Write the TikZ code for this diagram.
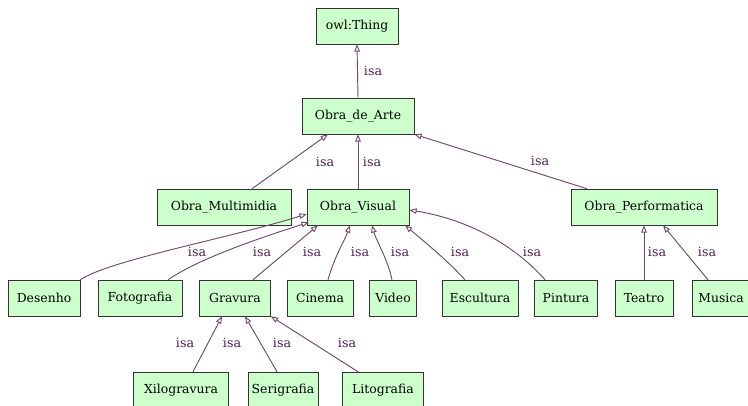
\documentclass[tikz,border=0pt]{standalone}
\usepackage{fontspec}
\setmainfont{DejaVu Serif}
\usetikzlibrary{arrows.meta, shadows}
\definecolor{clsGreen}{RGB}{204,255,204}
\definecolor{isaPurple}{RGB}{112,72,112}
\definecolor{isaText}{RGB}{80,30,80}
\newlength\px
\setlength\px{0.75pt}

\begin{document}
\begin{tikzpicture}[
    x=0.75pt, y=-0.75pt,
    cls/.style={rectangle, draw=black!80, fill=clsGreen, minimum width=#1\px,
                minimum height=36\px, inner sep=0pt, font=\fontsize{9.3}{11}\selectfont,
                drop shadow={shadow xshift=0.7pt, shadow yshift=-0.7pt, fill=black!70, opacity=0.8}},
    isa/.style={-{Triangle[open, length=5.5pt, width=4.2pt]}, isaPurple, line width=0.7pt},
    lbl/.style={font=\fontsize{9.5}{11}\selectfont, text=isaText, inner sep=1pt},
  ]
    \useasboundingbox (0,0) rectangle (748,405);

    % Classes
    \node[cls=82]  (thing) at (357,26)  {owl:Thing};
    \node[cls=112] (arte)  at (358,116) {Obra\_de\_Arte};
    \node[cls=134] (multi) at (224,207) {Obra\_Multimidia};
    \node[cls=102] (visual) at (358,207) {Obra\_Visual};
    \node[cls=146] (perf)  at (644,207) {Obra\_Performatica};

    \node[cls=72] (desenho)   at (44,298)  {Desenho};
    \node[cls=84] (foto)      at (140,298) {Fotografia};
    \node[cls=71] (gravura)   at (235,298) {Gravura};
    \node[cls=66] (cinema)    at (320,298) {Cinema};
    \node[cls=47] (video)     at (393,298) {Video};
    \node[cls=76] (escultura) at (480,298) {Escultura};
    \node[cls=63] (pintura)   at (566,298) {Pintura};
    \node[cls=58] (teatro)    at (644,298) {Teatro};
    \node[cls=58] (musica)    at (721,298) {Musica};

    \node[cls=95] (xilo) at (181,390) {Xilogravura};
    \node[cls=70] (seri) at (283,390) {Serigrafia};
    \node[cls=81] (lito) at (383,390) {Litografia};

    % isa links
    \draw[isa] (arte.north) -- (thing.south);
    \draw[isa] ([xshift=28\px]multi.north) -- ([xshift=-30\px]arte.south);
    \draw[isa] (visual.north) -- (arte.south);
    \draw[isa] ([xshift=-57\px]perf.north) -- (arte.south east);

    \draw[isa] (desenho.north east) .. controls (110,260) and (230,238) .. ([yshift=-7\px]visual.west);
    \draw[isa] ([xshift=28\px]foto.north) .. controls (200,258) and (260,238) .. ([xshift=2\px,yshift=3\px]visual.south west);
    \draw[isa] ([xshift=18\px]gravura.north) -- ([xshift=-40\px]visual.south);
    \draw[isa] ([xshift=8\px]cinema.north) .. controls (335,255) and (345,240) .. ([xshift=-8\px]visual.south);
    \draw[isa] ([xshift=-1\px]video.north) .. controls (388,260) and (376,240) .. ([xshift=14\px]visual.south);
    \draw[isa] ([xshift=-15\px]escultura.north) .. controls (445,258) and (420,238) .. ([xshift=47\px]visual.south);
    \draw[isa] ([xshift=-21\px]pintura.north) .. controls (510,240) and (460,218) .. ([yshift=-3\px]visual.east);

    \draw[isa] (teatro.north) -- (perf.south);
    \draw[isa] ([xshift=-13\px]musica.north) -- ([xshift=19\px]perf.south);

    \draw[isa] ([xshift=12\px]xilo.north) -- ([xshift=-13\px]gravura.south);
    \draw[isa] ([xshift=-6\px]seri.north) -- ([xshift=10\px]gravura.south);
    \draw[isa] ([xshift=-25\px]lito.north) -- (gravura.south east);

    % Labels
    \node[lbl] (l1) at (373,71)  {isa};
    \node[lbl] (l2) at (325,162) {isa};
    \node[lbl] (l3) at (372,162) {isa};
    \node[lbl] (l4) at (540,161) {isa};
    \foreach \lx in {197,262,312,360,400,460,532,657,707}
      \node[lbl] at (\lx,252) {isa};
    \foreach \lx in {185,232,282,347}
      \node[lbl] at (\lx,343) {isa};
  \end{tikzpicture}
\end{document}
